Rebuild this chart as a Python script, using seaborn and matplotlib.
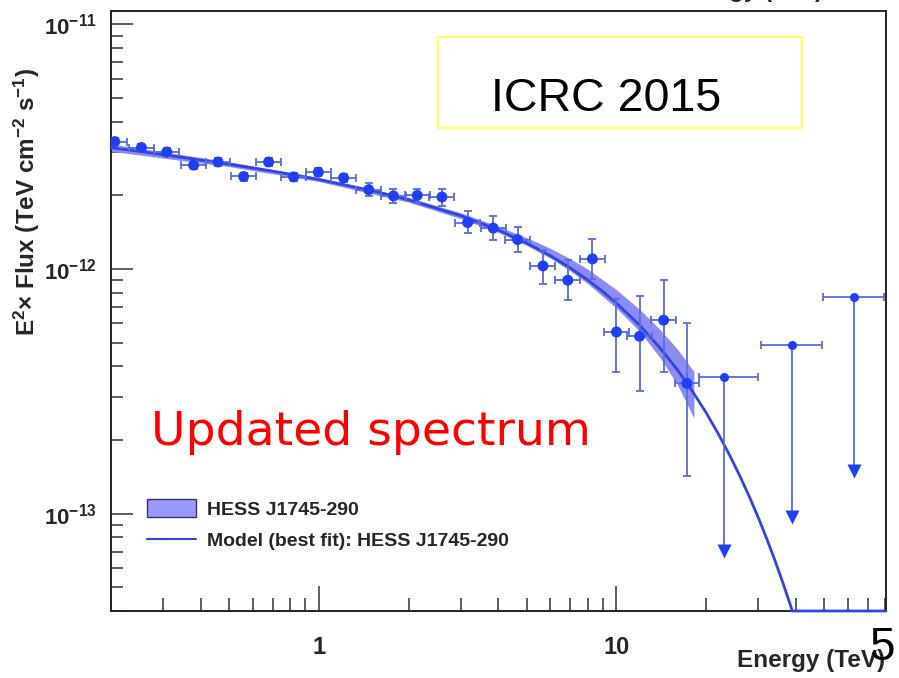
import matplotlib
matplotlib.use("Agg")
import matplotlib.pyplot as plt
from matplotlib.patches import Patch, Rectangle
from matplotlib.lines import Line2D
from matplotlib.ticker import LogLocator, NullFormatter
import numpy as np
import pandas as pd
import seaborn as sns

# ---- spectrum data (energies in TeV, E^2 x flux in units of 1e-12 TeV cm^-2 s^-1) ----
FLUX_UNIT = 1e-12

energy = [0.206, 0.253, 0.308, 0.379, 0.458, 0.558, 0.677, 0.822, 0.995, 1.21,
          1.47, 1.78, 2.14, 2.59, 3.16, 3.85, 4.65, 5.66, 6.86, 8.30,
          10.0, 11.95, 14.4, 17.25]
energy_lo = [0.187, 0.230, 0.280, 0.344, 0.416, 0.507, 0.615, 0.746, 0.903, 1.10,
             1.33, 1.62, 1.94, 2.35, 2.87, 3.50, 4.22, 5.14, 6.23, 7.54,
             9.08, 10.85, 13.1, 15.7]
energy_hi = [0.227, 0.279, 0.339, 0.417, 0.504, 0.614, 0.745, 0.905, 1.095, 1.33,
             1.62, 1.96, 2.36, 2.85, 3.48, 4.24, 5.12, 6.23, 7.55, 9.14,
             11.0, 13.2, 15.9, 19.0]
flux = [3.32, 3.14, 3.01, 2.66, 2.74, 2.39, 2.74, 2.38, 2.49, 2.36,
        2.11, 1.99, 2.00, 1.97, 1.55, 1.47, 1.32, 1.03, 0.90, 1.10,
        0.553, 0.531, 0.618, 0.341]
flux_lo = [3.20, 3.02, 2.90, 2.56, 2.64, 2.30, 2.64, 2.29, 2.40, 2.27,
           1.98, 1.86, 1.87, 1.81, 1.40, 1.31, 1.17, 0.87, 0.745, 0.91,
           0.379, 0.316, 0.378, 0.142]
flux_hi = [3.44, 3.26, 3.12, 2.76, 2.84, 2.48, 2.84, 2.47, 2.58, 2.45,
           2.25, 2.12, 2.13, 2.13, 1.72, 1.65, 1.49, 1.20, 1.09, 1.33,
           0.755, 0.775, 0.902, 0.601]

# upper limits
ul_energy = [23.05, 38.8, 62.7]
ul_energy_lo = [18.9, 30.5, 49.3]
ul_energy_hi = [29.85, 48.9, 79.1]
ul_flux = [0.362, 0.488, 0.770]
ul_arrow_end = [0.0705, 0.0972, 0.150]

# best-fit model curve (clipped at the lower edge of the frame)
model_energy = [0.2, 0.3, 0.5, 0.7, 1, 1.5, 2, 3, 4, 5, 6, 7, 8, 9, 10, 12, 14,
                16, 18, 20, 22, 24, 26, 28, 30, 32, 34, 36, 38, 39.0, 80.5]
model_flux = [3.135, 2.935, 2.682, 2.511, 2.323, 2.094, 1.920, 1.652, 1.445,
              1.276, 1.133, 1.010, 0.902, 0.808, 0.725, 0.587, 0.476, 0.388,
              0.3165, 0.259, 0.2117, 0.1734, 0.1423, 0.1168, 0.0960, 0.0789,
              0.0649, 0.0534, 0.0440, 0.040, 0.040]

# 1-sigma butterfly
band_energy = [0.2, 0.5, 1, 2, 3, 4, 5, 6, 7, 8, 10, 12, 14, 16, 18.2]
band_lo = [3.029, 2.622, 2.280, 1.877, 1.607, 1.413, 1.247, 1.108, 0.983,
           0.872, 0.692, 0.554, 0.434, 0.338, 0.246]
band_hi = [3.245, 2.744, 2.367, 1.964, 1.698, 1.496, 1.342, 1.215, 1.102,
           1.000, 0.823, 0.682, 0.566, 0.472, 0.381]

x_range = (0.2, 80.5)
y_range = (0.040, 11.35)
y_tick_values = [0.1, 1.0, 10.0]
y_tick_labels = [r"$\mathdefault{10^{-13}}$", r"$\mathdefault{10^{-12}}$", r"$\mathdefault{10^{-11}}$"]
x_tick_values = [1, 10]
x_tick_labels = ["1", "10"]

# ---- style ----
sns.set_theme(style="ticks")
plt.rcParams["font.family"] = ["Liberation Sans", "DejaVu Sans"]
plt.rcParams["mathtext.fontset"] = "custom"
plt.rcParams["mathtext.rm"] = "Liberation Sans:bold"
plt.rcParams["mathtext.it"] = "Liberation Sans:bold"
plt.rcParams["mathtext.bf"] = "Liberation Sans:bold"

POINT_COLOR = "#1f3ff5"
BAR_COLOR = "#5a6ade"
LINE_COLOR = "#2f45e0"
BAND_COLOR = "#8b8bf3"

W, H = 899, 678
fig = plt.figure(figsize=(W / 100, H / 100), dpi=100)
fig.patch.set_facecolor("white")


def fx(px):
    return px / W


def fy(py):
    return 1 - py / H


ax = fig.add_axes([fx(111), fy(611), fx(886) - fx(111), fy(11) - fy(611)])
ax.set_facecolor("white")
ax.set_xscale("log")
ax.set_yscale("log")

scale = lambda vals: [v * FLUX_UNIT for v in vals]

# butterfly band
ax.fill_between(band_energy, scale(band_lo), scale(band_hi), color=BAND_COLOR, lw=0, zorder=1)

# model line
model_df = pd.DataFrame({"E": model_energy, "F": scale(model_flux)})
sns.lineplot(data=model_df, x="E", y="F", ax=ax, color=LINE_COLOR, lw=2.0,
             sort=False, clip_on=False, zorder=3)

# data points with error bars
F = np.array(scale(flux))
Flo = np.array(scale(flux_lo))
Fhi = np.array(scale(flux_hi))
E = np.array(energy)
ax.errorbar(E, F, xerr=[E - np.array(energy_lo), np.array(energy_hi) - E],
            yerr=[F - Flo, Fhi - F], fmt="none", ecolor=BAR_COLOR,
            elinewidth=1.3, capsize=3, capthick=1.3, zorder=4)
pts_df = pd.DataFrame({"E": energy, "F": scale(flux)})
sns.scatterplot(data=pts_df, x="E", y="F", ax=ax, color=POINT_COLOR, s=62,
                edgecolor="none", zorder=5)

# upper limits
UE = np.array(ul_energy)
UF = np.array(scale(ul_flux))
UA = np.array(scale(ul_arrow_end))
ax.errorbar(UE, UF, xerr=[UE - np.array(ul_energy_lo), np.array(ul_energy_hi) - UE],
            fmt="none", ecolor=BAR_COLOR, elinewidth=1.3, capsize=3, capthick=1.3, zorder=4)
ax.vlines(UE, UA, UF, color=BAR_COLOR, lw=1.3, zorder=4)
ax.plot(UE, UF, "o", color=POINT_COLOR, ms=6.5, mec="none", zorder=5)
ax.plot(UE, UA, "v", color=POINT_COLOR, ms=10.5, mec="none", zorder=5)

# axes
ax.set_xlim(*x_range)
ax.set_ylim(y_range[0] * FLUX_UNIT, y_range[1] * FLUX_UNIT)
ax.set_xlabel("")
ax.set_ylabel("")
for s in ax.spines.values():
    s.set_visible(True)
    s.set_color("#222222")
    s.set_linewidth(1.4)

ax.xaxis.set_minor_locator(LogLocator(base=10, subs=np.arange(2, 10), numticks=50))
ax.yaxis.set_minor_locator(LogLocator(base=10, subs=np.arange(2, 10), numticks=50))
ax.xaxis.set_minor_formatter(NullFormatter())
ax.yaxis.set_minor_formatter(NullFormatter())
ax.set_xticks(x_tick_values)
ax.set_xticklabels(x_tick_labels, fontsize=17, fontweight="bold")
ax.set_yticks([v * FLUX_UNIT for v in y_tick_values])
ax.set_yticklabels(y_tick_labels, fontsize=16, fontweight="bold")

ax.tick_params(axis="x", which="major", direction="in", length=18, width=1.1,
               color="#333333", pad=18, top=False, bottom=True)
ax.tick_params(axis="x", which="minor", direction="in", length=9.5, width=1.1,
               color="#333333", top=False, bottom=True)
ax.tick_params(axis="y", which="major", direction="in", length=16, width=1.1,
               color="#333333", pad=10, right=False, left=True)
ax.tick_params(axis="y", which="minor", direction="in", length=8.5, width=1.1,
               color="#333333", right=False, left=True)

# legend
handles = [Patch(facecolor="#9999ff", edgecolor="#333366", lw=1.0),
           Line2D([], [], color=LINE_COLOR, lw=1.5)]
labels = ["HESS J1745-290", "Model (best fit): HESS J1745-290"]
ax.legend(handles, labels, loc="upper left", bbox_to_anchor=(fx(147), fy(499)),
          bbox_transform=fig.transFigure, frameon=False,
          prop={"weight": "bold", "size": 14, "family": "Liberation Sans"},
          handlelength=2.5, handleheight=1.05, handletextpad=0.6,
          labelspacing=0.62, borderpad=0, borderaxespad=0)

# axis titles
fig.text(fx(27), fy(202), r"E$^{2}$× Flux (TeV cm$^{-2}$ s$^{-1}$)", rotation=90,
         ha="center", va="center", fontsize=17.5, fontweight="bold")
fig.text(fx(885), fy(667), "Energy (TeV)", ha="right", va="baseline",
         fontsize=17.5, fontweight="bold")
fig.text(fx(823), fy(-3), "Energy (TeV)", ha="right", va="baseline",
         fontsize=17.5, fontweight="bold")

# annotation box
fig.patches.append(Rectangle((fx(438), fy(128)), fx(802) - fx(438), fy(37) - fy(128),
                             transform=fig.transFigure, fill=False,
                             edgecolor="#ffff33", lw=1.2))
fig.text(fx(606), fy(111), "ICRC 2015", ha="center", va="baseline",
         fontsize=33.5, family="Liberation Sans", color="black")
fig.text(fx(151), fy(445), "Updated spectrum", ha="left", va="baseline",
         fontsize=34, family="DejaVu Sans", color="#ff0000")
fig.text(fx(882), fy(660), "5", ha="center", va="baseline",
         fontsize=33, family="Liberation Sans", color="black")

fig.savefig("out.png", dpi=100, facecolor="white")
